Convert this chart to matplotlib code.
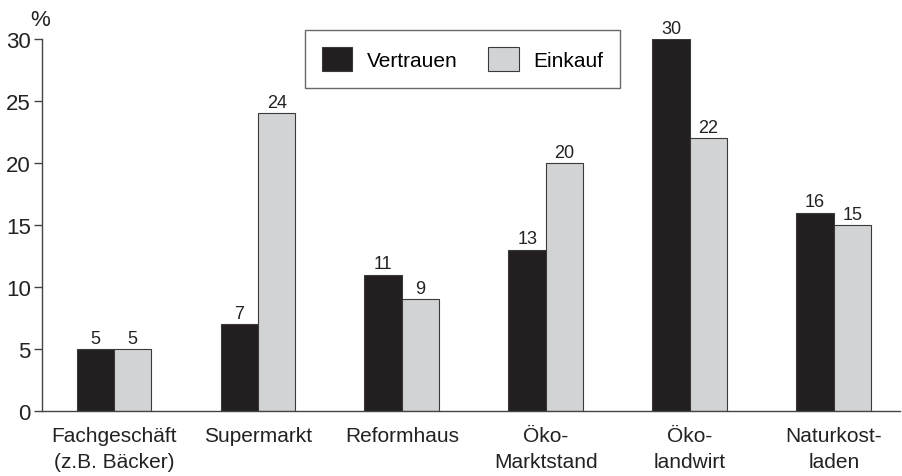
import matplotlib
matplotlib.use("Agg")
import matplotlib.pyplot as plt
import numpy as np
from matplotlib import font_manager

names = {f.name for f in font_manager.fontManager.ttflist}
fam = ['Liberation Sans Narrow', 'Liberation Sans', 'DejaVu Sans'] if 'Liberation Sans Narrow' in names else ['Liberation Sans', 'DejaVu Sans']
plt.rcParams['font.family'] = fam

categories = ["Fachgeschäft\n(z.B. Bäcker)", "Supermarkt", "Reformhaus", "Öko-\nMarktstand", "Öko-\nlandwirt", "Naturkost-\nladen"]
vertrauen = [5, 7, 11, 13, 30, 16]
einkauf = [5, 24, 9, 20, 22, 15]
yticks = [0, 5, 10, 15, 20, 25, 30]

dark = "#231f20"
light = "#d1d3d4"
edge = "#3a3a3a"

fig = plt.figure(figsize=(9.02, 4.77), dpi=100)
ax = fig.add_axes([42/902, 65/477, (900-42)/902, (412-40)/477])

x = np.arange(len(categories))
w = 0.26
b1 = ax.bar(x - w/2, vertrauen, w, color=dark, edgecolor=edge, linewidth=0.8, label="Vertrauen")
b2 = ax.bar(x + w/2, einkauf, w, color=light, edgecolor=edge, linewidth=0.8, label="Einkauf")

for bars, vals in ((b1, vertrauen), (b2, einkauf)):
    for r, v in zip(bars, vals):
        ax.text(r.get_x() + r.get_width()/2, v + 0.2, str(v), ha='center', va='bottom', fontsize=13, color='#222222')

ax.set_xlim(-0.5, 5.46)
ax.set_ylim(0, 30)
ax.set_yticks(yticks)
ax.set_yticklabels([str(t) for t in yticks], fontsize=16, color='#222222')
ax.set_xticks(x)
ax.set_xticklabels(categories, fontsize=15, color='#222222', linespacing=1.45)
ax.tick_params(axis='x', length=0, pad=11)
ax.tick_params(axis='y', length=6, width=1, color='#444444', pad=2)
for s in ('top', 'right'):
    ax.spines[s].set_visible(False)
for s in ('left', 'bottom'):
    ax.spines[s].set_color('#444444')
    ax.spines[s].set_linewidth(1)

fig.text(40/902, 1 - 20/477, "%", ha='center', va='center', fontsize=16, color='#222222')

leg = ax.legend(loc='upper left', bbox_to_anchor=((305-42)/858, 1 - (31-40)/372), ncol=2,
                fontsize=15, frameon=True, fancybox=False, edgecolor='#444444',
                handlelength=1.45, handleheight=1.45, handletextpad=0.7, columnspacing=1.5,
                borderpad=0.8, borderaxespad=0)
leg.get_frame().set_linewidth(1)

fig.savefig("out.png", dpi=100)
